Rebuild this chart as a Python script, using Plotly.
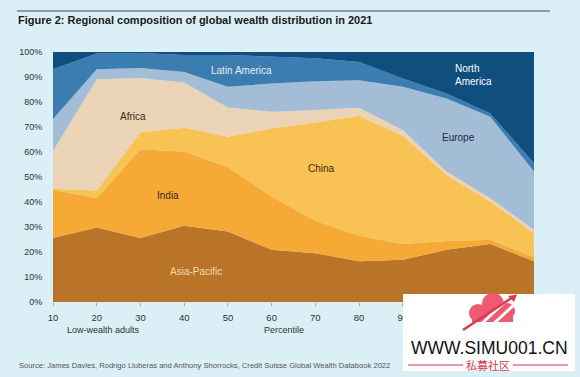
import plotly.graph_objects as go

# Percentile categories (last three hidden under watermark in the reference)
categories = ["10", "20", "30", "40", "50", "60", "70", "80", "90", "95", "99", "Top 1%"]

# Regional shares of each percentile group (%), bottom to top
asia_pacific = [25.6, 29.8, 25.6, 30.5, 28.2, 20.9, 19.5, 16.3, 16.9, 20.9, 23.2, 16.3]
india        = [19.3, 11.7, 35.5, 29.6, 25.8, 21.3, 13.0, 10.2, 6.3, 3.5, 1.7, 1.6]
china        = [0.4, 3.1, 6.8, 9.6, 12.1, 27.2, 39.3, 48.0, 43.3, 26.4, 15.3, 9.7]
africa       = [15.1, 44.5, 21.7, 18.1, 11.7, 6.7, 5.0, 3.2, 2.3, 1.4, 1.3, 1.3]
europe       = [12.8, 4.0, 4.0, 4.2, 8.3, 11.3, 11.5, 11.0, 17.3, 29.2, 32.6, 23.3]
latin_america= [19.9, 6.3, 6.0, 6.8, 12.7, 10.6, 9.2, 7.3, 3.3, 2.0, 1.3, 3.3]
north_america= [6.9, 0.6, 0.4, 1.2, 1.2, 2.0, 2.5, 4.0, 10.6, 16.6, 24.6, 44.5]

y_ticks = [0, 10, 20, 30, 40, 50, 60, 70, 80, 90, 100]
y_tick_labels = [f"{v}%" for v in y_ticks]

series = [
    ("Asia-Pacific", asia_pacific, "#BA7428"),
    ("India", india, "#F6A934"),
    ("China", china, "#F8C254"),
    ("Africa", africa, "#EBD4B6"),
    ("Europe", europe, "#A3BDD6"),
    ("Latin America", latin_america, "#3C7DB1"),
    ("North America", north_america, "#0F4E7D"),
]

x = list(range(len(categories)))
BG = "#DAEFF6"
FONT = "Liberation Sans, Arial, sans-serif"

fig = go.Figure()
for name, vals, col in series:
    fig.add_trace(go.Scatter(
        x=x, y=vals, name=name, mode="lines", stackgroup="one",
        line=dict(width=0, color=col), fillcolor=col, hoverinfo="skip",
    ))

fig.update_layout(
    width=580, height=377,
    margin=dict(l=53, r=46, t=52, b=75),
    paper_bgcolor=BG, plot_bgcolor=BG,
    showlegend=False,
    font=dict(family=FONT, size=9, color="#333333"),
)
fig.update_xaxes(
    range=[0, len(categories) - 1], tickvals=x, ticktext=categories,
    showgrid=False, zeroline=False, showline=False,
    ticks="outside", ticklen=3, tickcolor="#9AA9B3", ticklabelstandoff=4,
    tickfont=dict(size=9.5, color="#333333"),
)
fig.update_yaxes(
    range=[0, 100], tickvals=y_ticks, ticktext=y_tick_labels,
    showgrid=False, zeroline=False, showline=False,
    ticks="outside", ticklen=8, tickcolor="rgba(0,0,0,0)",
    tickfont=dict(size=9, color="#333333"),
)

def PX(px):
    return (px - 53) / 481

def PY(py):
    return (302 - py) / 250

# Title and rule
fig.add_shape(type="line", xref="paper", yref="paper", x0=PX(17), x1=PX(550),
              y0=PY(11), y1=PY(11), line=dict(color="#6F8191", width=1.5))
fig.add_annotation(xref="paper", yref="paper", x=PX(16), y=PY(20), xanchor="left", yanchor="middle",
                   text="<b>Figure 2: Regional composition of global wealth distribution in 2021</b>",
                   showarrow=False, font=dict(family=FONT, size=11, color="#1a1a1a"))

def px_ann(px, py, text, color, size=10, xanchor="center", align="center", family=FONT):
    fig.add_annotation(xref="paper", yref="paper", x=PX(px), y=PY(py),
                       xanchor=xanchor, yanchor="middle", text=text, showarrow=False, align=align,
                       font=dict(family=family, size=size, color=color))

px_ann(133, 116, "Africa", "#3a2a18")
px_ann(168, 195, "India", "#3a2a18")
px_ann(196, 271, "Asia-Pacific", "#F5D9AE")
px_ann(241, 71, "Latin America", "#E4EDF5")
px_ann(321, 168, "China", "#3a2a18")
px_ann(458, 137, "Europe", "#1e2a36")
px_ann(453, 75, "North<br>America", "#FFFFFF", xanchor="left", align="left")

# Axis captions
px_ann(103, 330, "Low-wealth adults", "#333333", size=9)
px_ann(284, 330, "Percentile", "#333333", size=9)

# Source
px_ann(17, 365, "Source: James Davies, Rodrigo Lluberas and Anthony Shorrocks, Credit Suisse Global Wealth Databook 2022",
       "#555555", size=7.6, xanchor="left", align="left")

# Watermark box
fig.add_shape(type="rect", xref="paper", yref="paper", x0=PX(403), x1=PX(575),
              y0=PY(371), y1=PY(294), fillcolor="#FFFFFF", line=dict(width=0), layer="above")
# cloud logo (rough)
for cx, cy, r in [(478, 313, 9), (493, 304, 11), (507, 311, 8)]:
    fig.add_shape(type="circle", xref="paper", yref="paper",
                  x0=PX(cx - r), x1=PX(cx + r), y0=PY(cy + r), y1=PY(cy - r),
                  fillcolor="#EE5A70", line=dict(width=0), layer="above")
fig.add_shape(type="rect", xref="paper", yref="paper", x0=PX(472), x1=PX(513), y0=PY(322), y1=PY(311),
              fillcolor="#EE5A70", line=dict(width=0), layer="above")
for (a, b, c, d) in [(478, 327, 506, 301), (490, 327, 516, 303)]:
    fig.add_shape(type="line", xref="paper", yref="paper", x0=PX(a), y0=PY(b), x1=PX(c), y1=PY(d),
                  line=dict(color="#FFFFFF", width=3), layer="above")
fig.add_shape(type="line", xref="paper", yref="paper", x0=PX(463), y0=PY(330), x1=PX(513), y1=PY(297),
              line=dict(color="#E2364F", width=2.5), layer="above")
fig.add_shape(type="path", xref="paper", yref="paper",
              path=f"M {PX(517)},{PY(294.5)} L {PX(508)},{PY(296)} L {PX(514)},{PY(302)} Z",
              fillcolor="#E2364F", line=dict(width=0), layer="above")

px_ann(489, 348, "WWW.SIMU001.CN", "#111111", size=17.5)
px_ann(488, 365, "私募社区", "#D8354F", size=11, family="Noto Sans CJK SC")
for a, b in [(408, 463), (513, 568)]:
    fig.add_shape(type="line", xref="paper", yref="paper", x0=PX(a), x1=PX(b),
                  y0=PY(365), y1=PY(365), line=dict(color="#D8354F", width=1), layer="above")

fig.write_html(
    "out.html",
    config={"displayModeBar": False},
    post_script=f"document.body.style.margin='0';document.body.style.background='{BG}';"
                f"document.documentElement.style.background='{BG}';",
)
